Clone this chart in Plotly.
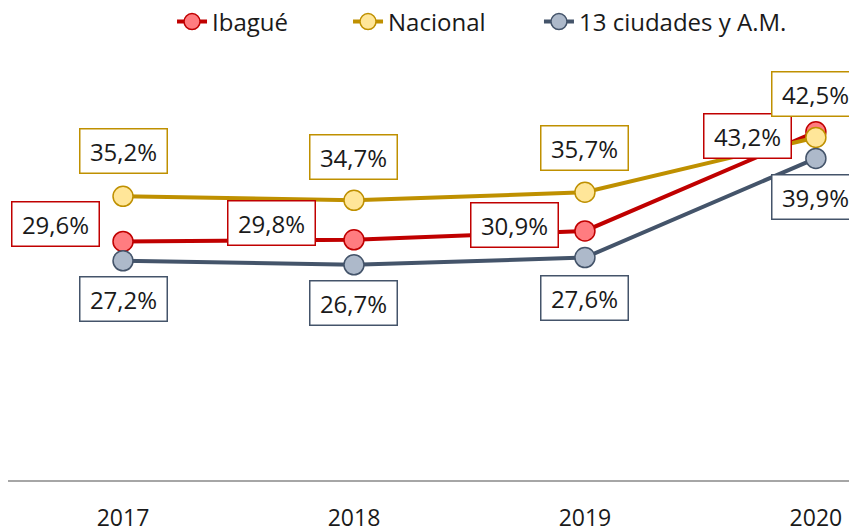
import plotly.graph_objects as go

years = ["2017", "2018", "2019", "2020"]
ibague = [29.6, 29.8, 30.9, 43.2]
nacional = [35.2, 34.7, 35.7, 42.5]
ciudades = [27.2, 26.7, 27.6, 39.9]

series = [
    ("Ibagué", ibague, "#C00000", "#FF7C80"),
    ("Nacional", nacional, "#BF9000", "#FFE699"),
    ("13 ciudades y A.M.", ciudades, "#44546A", "#ADB9CA"),
]

# label offsets in pixels (x, y) per series / point
offsets = {
    "Ibagué": [(-68, 14), (-82, 14), (-70, 3), (-68, -7)],
    "Nacional": [(0, 42), (0, 40), (0, 41), (0, 40)],
    "13 ciudades y A.M.": [(0, -41), (0, -41), (0, -43), (0, -42)],
}
legend_x = [0.1932, 0.4005, 0.6254]
legend_names = ["legend", "legend2", "legend3"]

FONT = "Open Sans, Noto Sans, sans-serif"
W, H = 849, 523  # page body adds an 8px margin around the figure
xs = list(range(len(years)))

fig = go.Figure()
annotations = []
for k, (name, vals, line_c, fill_c) in enumerate(series):
    fig.add_trace(go.Scatter(
        x=xs, y=vals, name=name, mode="lines+markers",
        line=dict(color=line_c, width=4),
        marker=dict(size=20, color=fill_c, line=dict(color=line_c, width=1.5)),
        hoverinfo="skip", legend=legend_names[k],
    ))
    for i, v in enumerate(vals):
        dx, dy = offsets[name][i]
        annotations.append(dict(
            x=xs[i], y=v, xref="x", yref="y",
            text=f"{v:.1f}%".replace(".", ","),
            showarrow=False, xshift=dx, yshift=dy + 3,
            xanchor="center", yanchor="middle",
            font=dict(family=FONT, size=24, color="#1a1a1a"),
            bgcolor="white", bordercolor=line_c, borderwidth=1.5,
            borderpad=3, width=80, height=37,
        ))

legend_common = dict(orientation="h", xref="container", yref="container",
                     xanchor="left", y=1 - 14 / H, yanchor="middle",
                     font=dict(size=24), bgcolor="rgba(0,0,0,0)")

fig.update_layout(
    width=W, height=H,
    margin=dict(l=0, r=0, t=40, b=51, autoexpand=False),
    paper_bgcolor="white", plot_bgcolor="white",
    font=dict(family=FONT, size=23, color="#1a1a1a"),
    showlegend=True,
    legend=dict(x=legend_x[0], **legend_common),
    legend2=dict(x=legend_x[1], **legend_common),
    legend3=dict(x=legend_x[2], **legend_common),
    annotations=annotations,
    xaxis=dict(
        range=[-0.498, 3.178], tickmode="array", tickvals=xs, ticktext=years,
        showgrid=False, zeroline=False, showline=True, linecolor="#A6A6A6", linewidth=2,
        ticks="", ticklabelstandoff=16, tickfont=dict(size=23), automargin=False,
    ),
    yaxis=dict(range=[0, 53.6], visible=False, showgrid=False, zeroline=False),
)

fig.write_html("out.html")
